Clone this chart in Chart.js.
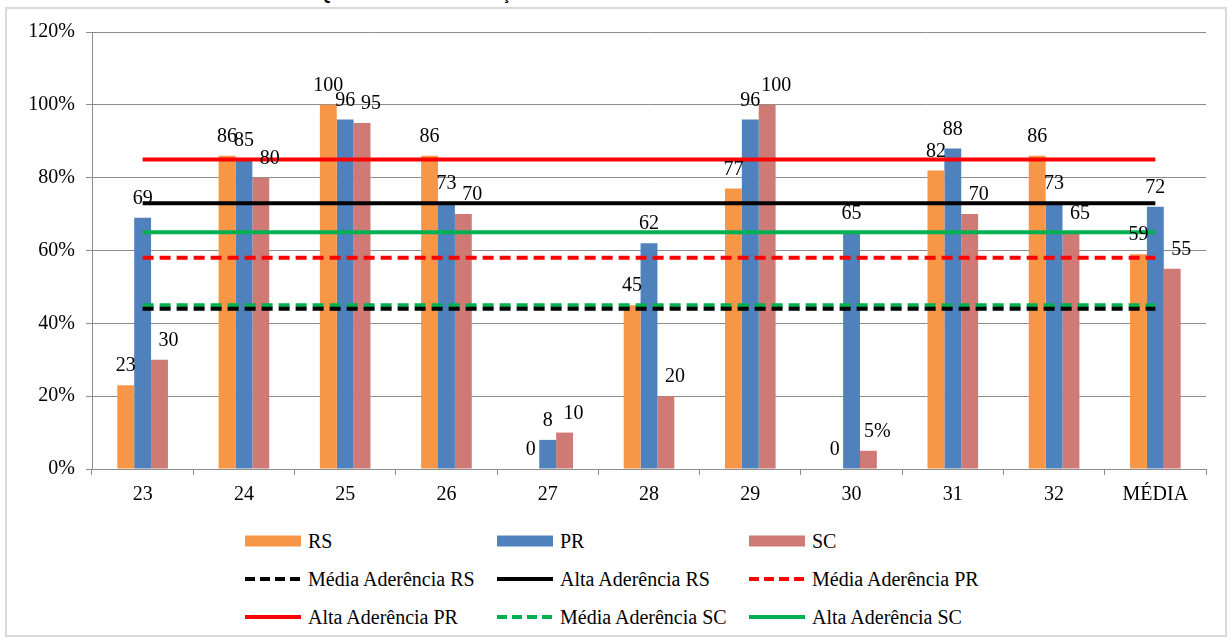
<!DOCTYPE html>
<html><head><meta charset="utf-8">
<script src="https://cdn.jsdelivr.net/npm/chart.js@4.4.1/dist/chart.umd.min.js"></script>
<style>
html,body{margin:0;padding:0;background:#fff;}
#wrap{position:relative;width:1232px;height:643px;overflow:hidden;font-family:"Liberation Serif","DejaVu Serif",serif;}
#title{position:absolute;left:4px;top:-15px;font:bold 17px "Liberation Sans",Arial,sans-serif;color:#000;white-space:nowrap;}
#frame{position:absolute;left:5px;top:7px;width:1222px;height:630px;border:2px solid #d9d9d9;box-sizing:border-box;}
#c{position:absolute;left:0;top:0;}
#legend{position:absolute;left:245px;top:522px;display:grid;grid-template-columns:252px 252px 252px;grid-auto-rows:38px;}
.item{display:flex;align-items:center;font-size:20px;color:#000;white-space:nowrap;}
.sw{width:56px;margin-right:7px;flex:none;display:block;}
</style></head><body>
<div id="wrap">
<div id="title">Gráfico 3 – Índices de Conformidade à Qualidade das Informações</div>
<div id="frame"></div>
<canvas id="c" width="1232" height="520"></canvas>
<div id="legend"></div>
</div>
<script>
// ---- data ----
const categories = ['23','24','25','26','27','28','29','30','31','32','MÉDIA'];
const rsValues = [23, 86, 100, 86, 0, 45, 77, 0, 82, 86, 59];
const prValues = [69, 85, 96, 73, 8, 62, 96, 65, 88, 73, 72];
const scValues = [30, 80, 95, 70, 10, 20, 100, 5, 70, 65, 55];
const mediaAderenciaRS = [44,44,44,44,44,44,44,44,44,44,44];
const altaAderenciaRS  = [73,73,73,73,73,73,73,73,73,73,73];
const mediaAderenciaPR = [58,58,58,58,58,58,58,58,58,58,58];
const altaAderenciaPR  = [85,85,85,85,85,85,85,85,85,85,85];
const mediaAderenciaSC = [45,45,45,45,45,45,45,45,45,45,45];
const altaAderenciaSC  = [65,65,65,65,65,65,65,65,65,65,65];
const yTickValues = [0, 20, 40, 60, 80, 100, 120];
const labelSuffixes = { SC: { 7: '%' } };

// ---- style ----
const FONT = '"Liberation Serif", "DejaVu Serif", serif';
const GRID = '#8c8c8c';
const colors = { RS: '#F79646', PR: '#4F81BD', SC: '#CF7A75' };
const labelDx = { RS: 0, PR: 0, SC: 9 };

function barDs(label, data, color) {
  return { type: 'bar', label, data, backgroundColor: color, borderWidth: 0, order: 2,
           categoryPercentage: 0.5, barPercentage: 1.0 };
}
function lineDs(label, data, color, dashed) {
  return { type: 'line', label, data, borderColor: color, backgroundColor: color, borderWidth: 4,
           borderDash: dashed ? [11, 6] : [], pointRadius: 0, pointHoverRadius: 0, fill: false,
           tension: 0, order: 1, _dashed: dashed };
}

const datasets = [
  barDs('RS', rsValues, colors.RS),
  barDs('PR', prValues, colors.PR),
  barDs('SC', scValues, colors.SC),
  lineDs('Média Aderência RS', mediaAderenciaRS, '#000000', true),
  lineDs('Alta Aderência RS', altaAderenciaRS, '#000000', false),
  lineDs('Média Aderência PR', mediaAderenciaPR, '#FF0000', true),
  lineDs('Alta Aderência PR', altaAderenciaPR, '#FF0000', false),
  lineDs('Média Aderência SC', mediaAderenciaSC, '#00B050', true),
  lineDs('Alta Aderência SC', altaAderenciaSC, '#00B050', false),
];

const barLabels = {
  id: 'barLabels',
  afterDatasetsDraw(chart) {
    const ctx = chart.ctx;
    ctx.save();
    ctx.font = '20px ' + FONT;
    ctx.fillStyle = '#000';
    ctx.textAlign = 'center';
    ctx.textBaseline = 'middle';
    chart.data.datasets.forEach((ds, i) => {
      if (ds.type !== 'bar') return;
      const meta = chart.getDatasetMeta(i);
      meta.data.forEach((el, j) => {
        const suf = (labelSuffixes[ds.label] && labelSuffixes[ds.label][j]) || '';
        ctx.fillText(String(ds.data[j]) + suf, el.x + (labelDx[ds.label] || 0), el.y - 19);
      });
    });
    ctx.restore();
  }
};

const chart = new Chart(document.getElementById('c'), {
  data: { labels: categories, datasets },
  options: {
    responsive: false,
    animation: false,
    devicePixelRatio: window.devicePixelRatio || 1,
    layout: { padding: { top: 32, right: 26, left: 0, bottom: 0 } },
    plugins: { legend: { display: false }, tooltip: { enabled: false } },
    scales: {
      x: {
        type: 'category',
        offset: true,
        grid: { display: true, offset: true, drawOnChartArea: false, drawTicks: true, tickLength: 6, color: GRID, lineWidth: 1 },
        border: { display: true, color: GRID, width: 1 },
        ticks: { color: '#000', font: { family: FONT, size: 20 }, padding: 8, maxRotation: 0, autoSkip: false },
        afterFit(s) { s.height = 51; }
      },
      y: {
        min: yTickValues[0], max: yTickValues[yTickValues.length - 1],
        afterBuildTicks(s) { s.ticks = yTickValues.map(v => ({ value: v })); },
        grid: { color: GRID, lineWidth: 1, drawTicks: true, tickLength: 6 },
        border: { display: true, color: GRID, width: 1 },
        ticks: { color: '#000', font: { family: FONT, size: 20 }, padding: 11, callback: v => v + '%' },
        afterFit(s) { s.width = 92; }
      }
    }
  },
  plugins: [barLabels]
});

// ---- HTML legend built from datasets ----
const legend = document.getElementById('legend');
chart.data.datasets.forEach(ds => {
  const item = document.createElement('div');
  item.className = 'item';
  const NS = 'http://www.w3.org/2000/svg';
  const svg = document.createElementNS(NS, 'svg');
  svg.setAttribute('class', 'sw');
  svg.setAttribute('width', '56');
  svg.setAttribute('height', '12');
  if (ds.type === 'bar') {
    const r = document.createElementNS(NS, 'rect');
    r.setAttribute('x', '0'); r.setAttribute('y', '0.5');
    r.setAttribute('width', '56'); r.setAttribute('height', '11');
    r.setAttribute('fill', ds.backgroundColor);
    svg.appendChild(r);
  } else {
    const l = document.createElementNS(NS, 'line');
    l.setAttribute('x1', '0'); l.setAttribute('x2', '56');
    l.setAttribute('y1', '6'); l.setAttribute('y2', '6');
    l.setAttribute('stroke', ds.borderColor);
    l.setAttribute('stroke-width', '4');
    if (ds._dashed) l.setAttribute('stroke-dasharray', '10 5');
    svg.appendChild(l);
  }
  item.appendChild(svg);
  const t = document.createElement('span');
  t.textContent = ds.label;
  item.appendChild(t);
  legend.appendChild(item);
});
</script>
</body></html>
